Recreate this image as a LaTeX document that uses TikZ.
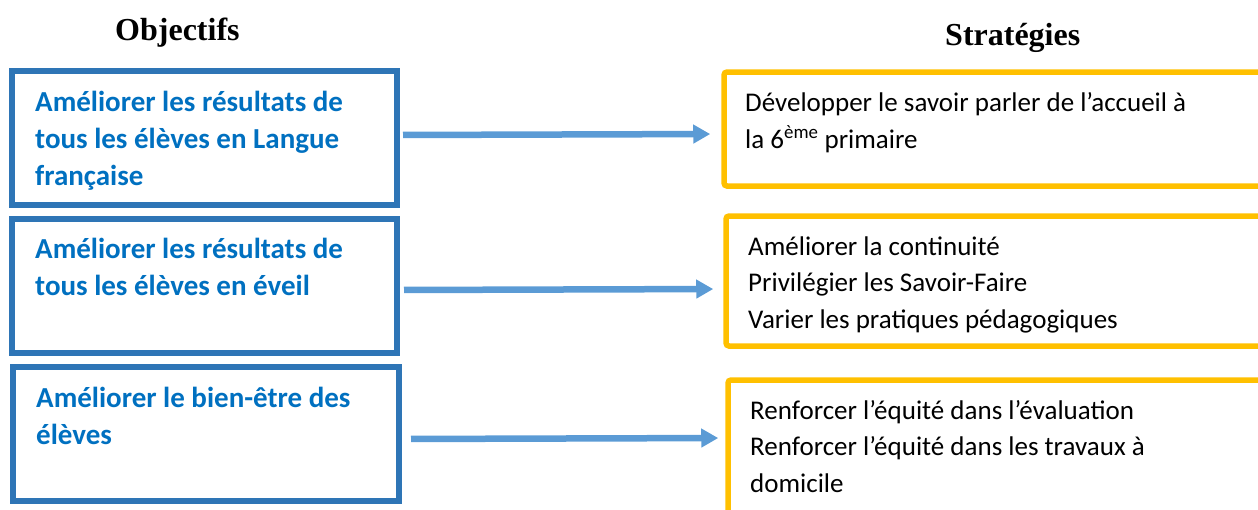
\documentclass[tikz,border=0pt]{standalone}
\usepackage{fontspec}
\setmainfont{Carlito}
\newfontfamily\titlefont{Liberation Serif}
\usetikzlibrary{arrows.meta,positioning}
\definecolor{objblue}{HTML}{2E75B6}
\definecolor{objtxt}{HTML}{0070C0}
\definecolor{arrblue}{HTML}{5B9BD5}
\definecolor{stratorange}{HTML}{FFC000}
\tikzset{objbox/.style={draw=objblue, line width=6pt, minimum width=385pt, minimum height=134pt, inner sep=0pt}}
\tikzset{stratbox/.style={draw=stratorange, line width=5.5pt, rounded corners=3pt, inner sep=0pt}}
\tikzset{objtext/.style={anchor=base west, align=left, inner sep=0pt, text=objtxt, font=\fontsize{29}{37}\selectfont\bfseries}}
\tikzset{strattext/.style={anchor=base west, align=left, inner sep=0pt, font=\fontsize{27}{36.5}\selectfont}}
\tikzset{titre/.style={anchor=base west, inner sep=0pt, font=\titlefont\fontsize{32}{38}\selectfont\bfseries}}
\tikzset{arr/.style={draw=arrblue, line width=6.5pt, -{Triangle[length=17pt,width=18pt]}}}

\begin{document}
\begin{tikzpicture}[x=1pt,y=-1pt]
	\useasboundingbox (0,0) rectangle (1258,509);
	\clip (0,0) rectangle (1258,509);
	
	\node[titre] (T1) at (115,40){Objectifs};
	\node[titre] (T2) at (945,45){Stratégies};
	
	\node[objbox] (L1) at (204.5,138){};
	\node[objbox] (L2) at (204.5,286){};
	\node[objbox, minimum width=386pt] (L3) at (206,434){};
	
	\node[stratbox, minimum width=541pt, minimum height=114pt] (R1) at (994.5,129){};
	\node[stratbox, minimum width=539pt, minimum height=130pt] (R2) at (995.5,281){};
	\node[stratbox, minimum width=537pt, minimum height=140pt] (R3) at (996.5,450){};
	
	\node[objtext] (O1) at (35,185){Améliorer les résultats de\\tous les élèves en Langue\\française};
	\node[objtext] (O2) at (35,295){Améliorer les résultats de\\tous les élèves en éveil};
	\node[objtext] (O3) at (36,444){Améliorer le bien-être des\\élèves};
	
	\node[strattext] (S1) at (745,148){Développer le savoir parler de l’accueil à\\la 6\textsuperscript{ème} primaire};
	\node[strattext] (S2) at (748,328){Améliorer la continuité\\Privilégier les Savoir-Faire\\Varier les pratiques pédagogiques};
	\node[strattext] (S3) at (750,492){Renforcer l’équité dans l’évaluation\\Renforcer l’équité dans les travaux à\\domicile};
	
	\draw[arr, shorten <=3pt, shorten >=11pt] ([yshift=3pt]L1.east) -- ([yshift=-5pt]R1.west);
	\draw[arr, shorten <=4pt, shorten >=10pt] ([yshift=-4pt]L2.east) -- ([yshift=-8pt]R2.west);
	\draw[arr, shorten <=9pt, shorten >=7pt] ([yshift=-5pt]L3.east) -- ([yshift=12pt]R3.west);
\end{tikzpicture}
\end{document}
